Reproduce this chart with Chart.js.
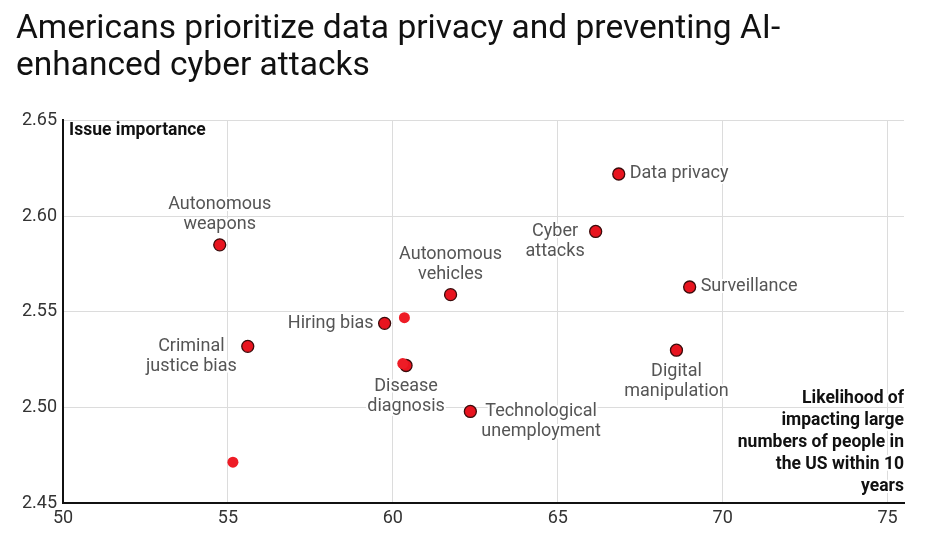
<!DOCTYPE html>
<html>
<head>
<meta charset="utf-8">
<script src="https://cdn.jsdelivr.net/npm/chart.js@4.4.1/dist/chart.umd.min.js"></script>
<style>
  html, body { margin: 0; padding: 0; background: #fff; }
  #wrap { width: 929px; height: 554px; }
</style>
</head>
<body>
<div id="wrap"><canvas id="myChart1"></canvas></div>
<script>
// labelled issues
var issues = ['Autonomous weapons', 'Criminal justice bias', 'Hiring bias', 'Autonomous vehicles',
    'Disease diagnosis', 'Technological unemployment', 'Cyber attacks', 'Data privacy',
    'Surveillance', 'Digital manipulation'];
var likelihood = [54.75, 55.6, 59.75, 61.75, 60.4, 62.35, 66.15, 66.85, 69.0, 68.6];
var importance = [2.585, 2.532, 2.544, 2.559, 2.522, 2.498, 2.592, 2.622, 2.563, 2.530];

// unlabelled points
var otherLikelihood = [60.35, 55.15, 60.3];
var otherImportance = [2.547, 2.4715, 2.523];

var xTicks = [50, 55, 60, 65, 70, 75];
var yTicks = [2.45, 2.50, 2.55, 2.60, 2.65];

var font = 'Roboto, "Noto Sans", sans-serif';

// label placement per issue
var placement = {
    'Autonomous weapons': ['top', ['Autonomous', 'weapons']],
    'Criminal justice bias': ['left', ['Criminal', 'justice bias']],
    'Hiring bias': ['left', ['Hiring bias']],
    'Autonomous vehicles': ['top', ['Autonomous', 'vehicles']],
    'Disease diagnosis': ['bottom', ['Disease', 'diagnosis']],
    'Technological unemployment': ['right', ['Technological', 'unemployment']],
    'Cyber attacks': ['left', ['Cyber', 'attacks']],
    'Data privacy': ['right', ['Data privacy']],
    'Surveillance': ['right', ['Surveillance']],
    'Digital manipulation': ['bottom', ['Digital', 'manipulation']]
};

var labelPlugin = {
    id: 'pointLabels',
    afterDatasetsDraw: function (chart) {
        var ctx = chart.ctx;
        var meta = chart.getDatasetMeta(1);
        var lh = 20;
        ctx.save();
        ctx.font = '18px ' + font;
        ctx.textBaseline = 'middle';
        ctx.textAlign = 'center';
        ctx.lineJoin = 'round';
        for (var i = 0; i < issues.length; i++) {
            var pt = meta.data[i];
            var p = placement[issues[i]];
            var lines = p[1];
            var w = 0;
            for (var k = 0; k < lines.length; k++) {
                w = Math.max(w, ctx.measureText(lines[k]).width);
            }
            var cx, y0;
            if (p[0] === 'top') {
                cx = pt.x;
                y0 = pt.y - 20 - (lines.length - 1) * lh;
            } else if (p[0] === 'bottom') {
                cx = pt.x;
                y0 = pt.y + 21;
            } else if (p[0] === 'left') {
                cx = pt.x - 11 - w / 2;
                y0 = pt.y;
            } else {
                cx = pt.x + 11 + w / 2;
                y0 = pt.y;
            }
            for (var k = 0; k < lines.length; k++) {
                ctx.strokeStyle = '#fff';
                ctx.lineWidth = 4;
                ctx.strokeText(lines[k], cx, y0 + k * lh);
                ctx.fillStyle = '#555';
                ctx.fillText(lines[k], cx, y0 + k * lh);
            }
        }

        // axis titles
        var area = chart.chartArea;
        ctx.font = 'bold 17.5px ' + font;
        ctx.fillStyle = '#111';
        ctx.textAlign = 'left';
        ctx.fillText('Issue importance', area.left + 6, area.top + 10);
        ctx.textAlign = 'right';
        var xt = ['Likelihood of', 'impacting large', 'numbers of people in', 'the US within 10', 'years'];
        for (var k = 0; k < xt.length; k++) {
            ctx.strokeStyle = '#fff';
            ctx.lineWidth = 4;
            ctx.strokeText(xt[k], area.right, area.bottom - 105 + k * 22);
            ctx.fillText(xt[k], area.right, area.bottom - 105 + k * 22);
        }
        ctx.restore();
    }
};

var ctx = document.getElementById('myChart1').getContext('2d');
var thisChart = new Chart(ctx, {
    type: 'scatter',
    data: {
        datasets: [{
            data: otherLikelihood.map(function (v, i) { return { x: v, y: otherImportance[i] }; }),
            backgroundColor: '#ee1c26',
            borderWidth: 0,
            pointRadius: 5.5
        }, {
            data: likelihood.map(function (v, i) { return { x: v, y: importance[i] }; }),
            backgroundColor: '#e8141f',
            borderColor: '#3b0b0b',
            borderWidth: 1.3,
            pointRadius: 6
        }]
    },
    options: {
        responsive: true,
        maintainAspectRatio: false,
        animation: false,
        layout: { padding: { left: 16, right: 25, top: 0, bottom: 21 } },
        plugins: {
            legend: { display: false },
            tooltip: { enabled: false },
            title: {
                display: true,
                text: ['Americans prioritize data privacy and preventing AI-', 'enhanced cyber attacks'],
                align: 'start',
                color: '#111',
                font: { family: font, size: 33.5, weight: 'normal', lineHeight: 1.08 },
                padding: { top: 12, bottom: 36 }
            }
        },
        scales: {
            x: {
                type: 'linear',
                min: 50,
                max: 75.5,
                afterBuildTicks: function (axis) {
                    axis.ticks = xTicks.map(function (v) { return { value: v }; });
                },
                ticks: { color: '#333', font: { family: font, size: 18 }, padding: 4 },
                grid: { color: '#dcdcdc', drawTicks: false },
                border: { color: '#111', width: 2 }
            },
            y: {
                type: 'linear',
                min: 2.45,
                max: 2.65,
                afterBuildTicks: function (axis) {
                    axis.ticks = yTicks.map(function (v) { return { value: v }; });
                },
                ticks: {
                    color: '#333',
                    font: { family: font, size: 18 },
                    padding: 6,
                    callback: function (v) { return v.toFixed(2); }
                },
                grid: { color: '#dcdcdc', drawTicks: false },
                border: { color: '#111', width: 2 }
            }
        }
    },
    plugins: [labelPlugin]
});
</script>
</body>
</html>
